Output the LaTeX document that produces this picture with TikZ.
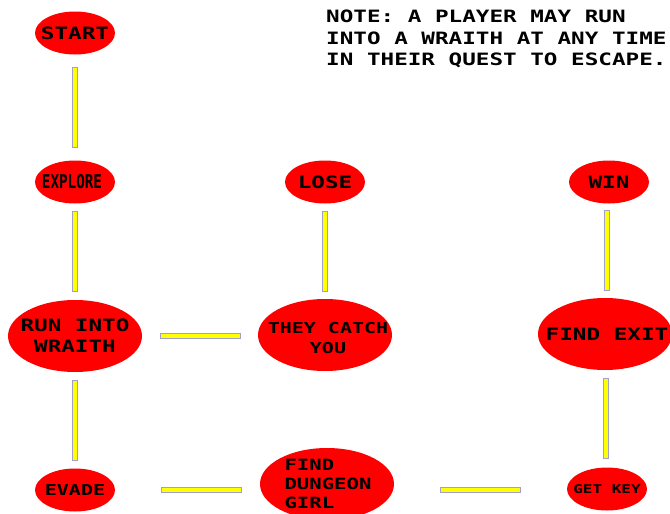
\documentclass[tikz,border=0pt]{standalone}
\usepackage{fontspec}
\newfontfamily\pixfont[FakeStretch=1.33]{DejaVu Sans Mono}
\newfontfamily\tallfont[FakeStretch=0.75]{DejaVu Sans Mono}
\usepackage{xcolor}
\definecolor{nodered}{HTML}{FF0000}
\definecolor{baryellow}{HTML}{FFFF00}
\definecolor{baredge}{HTML}{A0A0C8}
\usepackage{tikz}
\usetikzlibrary{shapes.geometric}

\tikzset{
  state/.style={ellipse, fill=nodered, inner sep=0pt, minimum width=80pt, minimum height=43pt},
  bigstate/.style={state, minimum width=134pt, minimum height=72pt},
  txt/.style 2 args={inner sep=0pt, font=\pixfont\bfseries\fontsize{#1}{#2}\selectfont},
  hbar/.style={rectangle, fill=baryellow, draw=baredge, line width=0.8pt,
    inner sep=0pt, minimum width=80pt, minimum height=5pt},
  vbar/.style={hbar, minimum width=5pt, minimum height=80pt}
}

\begin{document}
\begin{tikzpicture}[x=1pt, y=-1pt]
  \useasboundingbox (0,0) rectangle (670,514);

  % states
  \node[state, label={[txt={17}{21}]center:START}] (start) at (75,33) {};
  \node[state, label={[inner sep=0pt, xshift=-3pt, font=\tallfont\bfseries\fontsize{19}{21}\selectfont]center:EXPLORE}] (explore) at (75,182) {};
  \node[bigstate, label={[txt={17}{21}, align=center]center:RUN INTO\\WRAITH}] (wraith) at (75,336) {};
  \node[bigstate, label={[txt={15}{19.5}, align=center, xshift=3pt, yshift=-3pt]center:THEY CATCH\\YOU}] (catch) at (325,335) {};
  \node[state, label={[txt={17}{21}]center:LOSE}] (lose) at (325,182) {};
  \node[state, label={[txt={15}{18}]center:EVADE}] (evade) at (75,490) {};
  \node[bigstate, label={[txt={15.5}{19}, align=left, xshift=1pt]center:FIND\\DUNGEON\\GIRL}] (girl) at (327,484) {};
  \node[state, label={[txt={12}{14}]center:GET KEY}] (key) at (607,489) {};
  \node[bigstate, label={[txt={17}{21}, xshift=2pt]center:FIND EXIT}] (exit) at (605,334) {};
  \node[state, label={[txt={17}{21}]center:WIN}] (win) at (609,182) {};

  % note
  \node[anchor=north west, txt={17}{21.5}, align=left] (note) at (326,10)
    {NOTE: A PLAYER MAY RUN\\INTO A WRAITH AT ANY TIME\\IN THEIR QUEST TO ESCAPE.};

  % connectors
  \path (start) -- node[vbar] {} (explore);
  \path (explore) -- node[vbar] {} (wraith);
  \path (wraith) -- node[hbar] {} (catch);
  \path (catch) -- node[vbar] {} (lose);
  \path (wraith) -- node[vbar] {} (evade);
  \path (evade) -- node[hbar, xshift=14pt, yshift=-3pt] {} (girl);
  \path (girl) -- node[hbar, yshift=-3pt] {} (key);
  \path (key) -- node[vbar] {} (exit);
  \path (exit) -- node[vbar] {} (win);
\end{tikzpicture}
\end{document}
